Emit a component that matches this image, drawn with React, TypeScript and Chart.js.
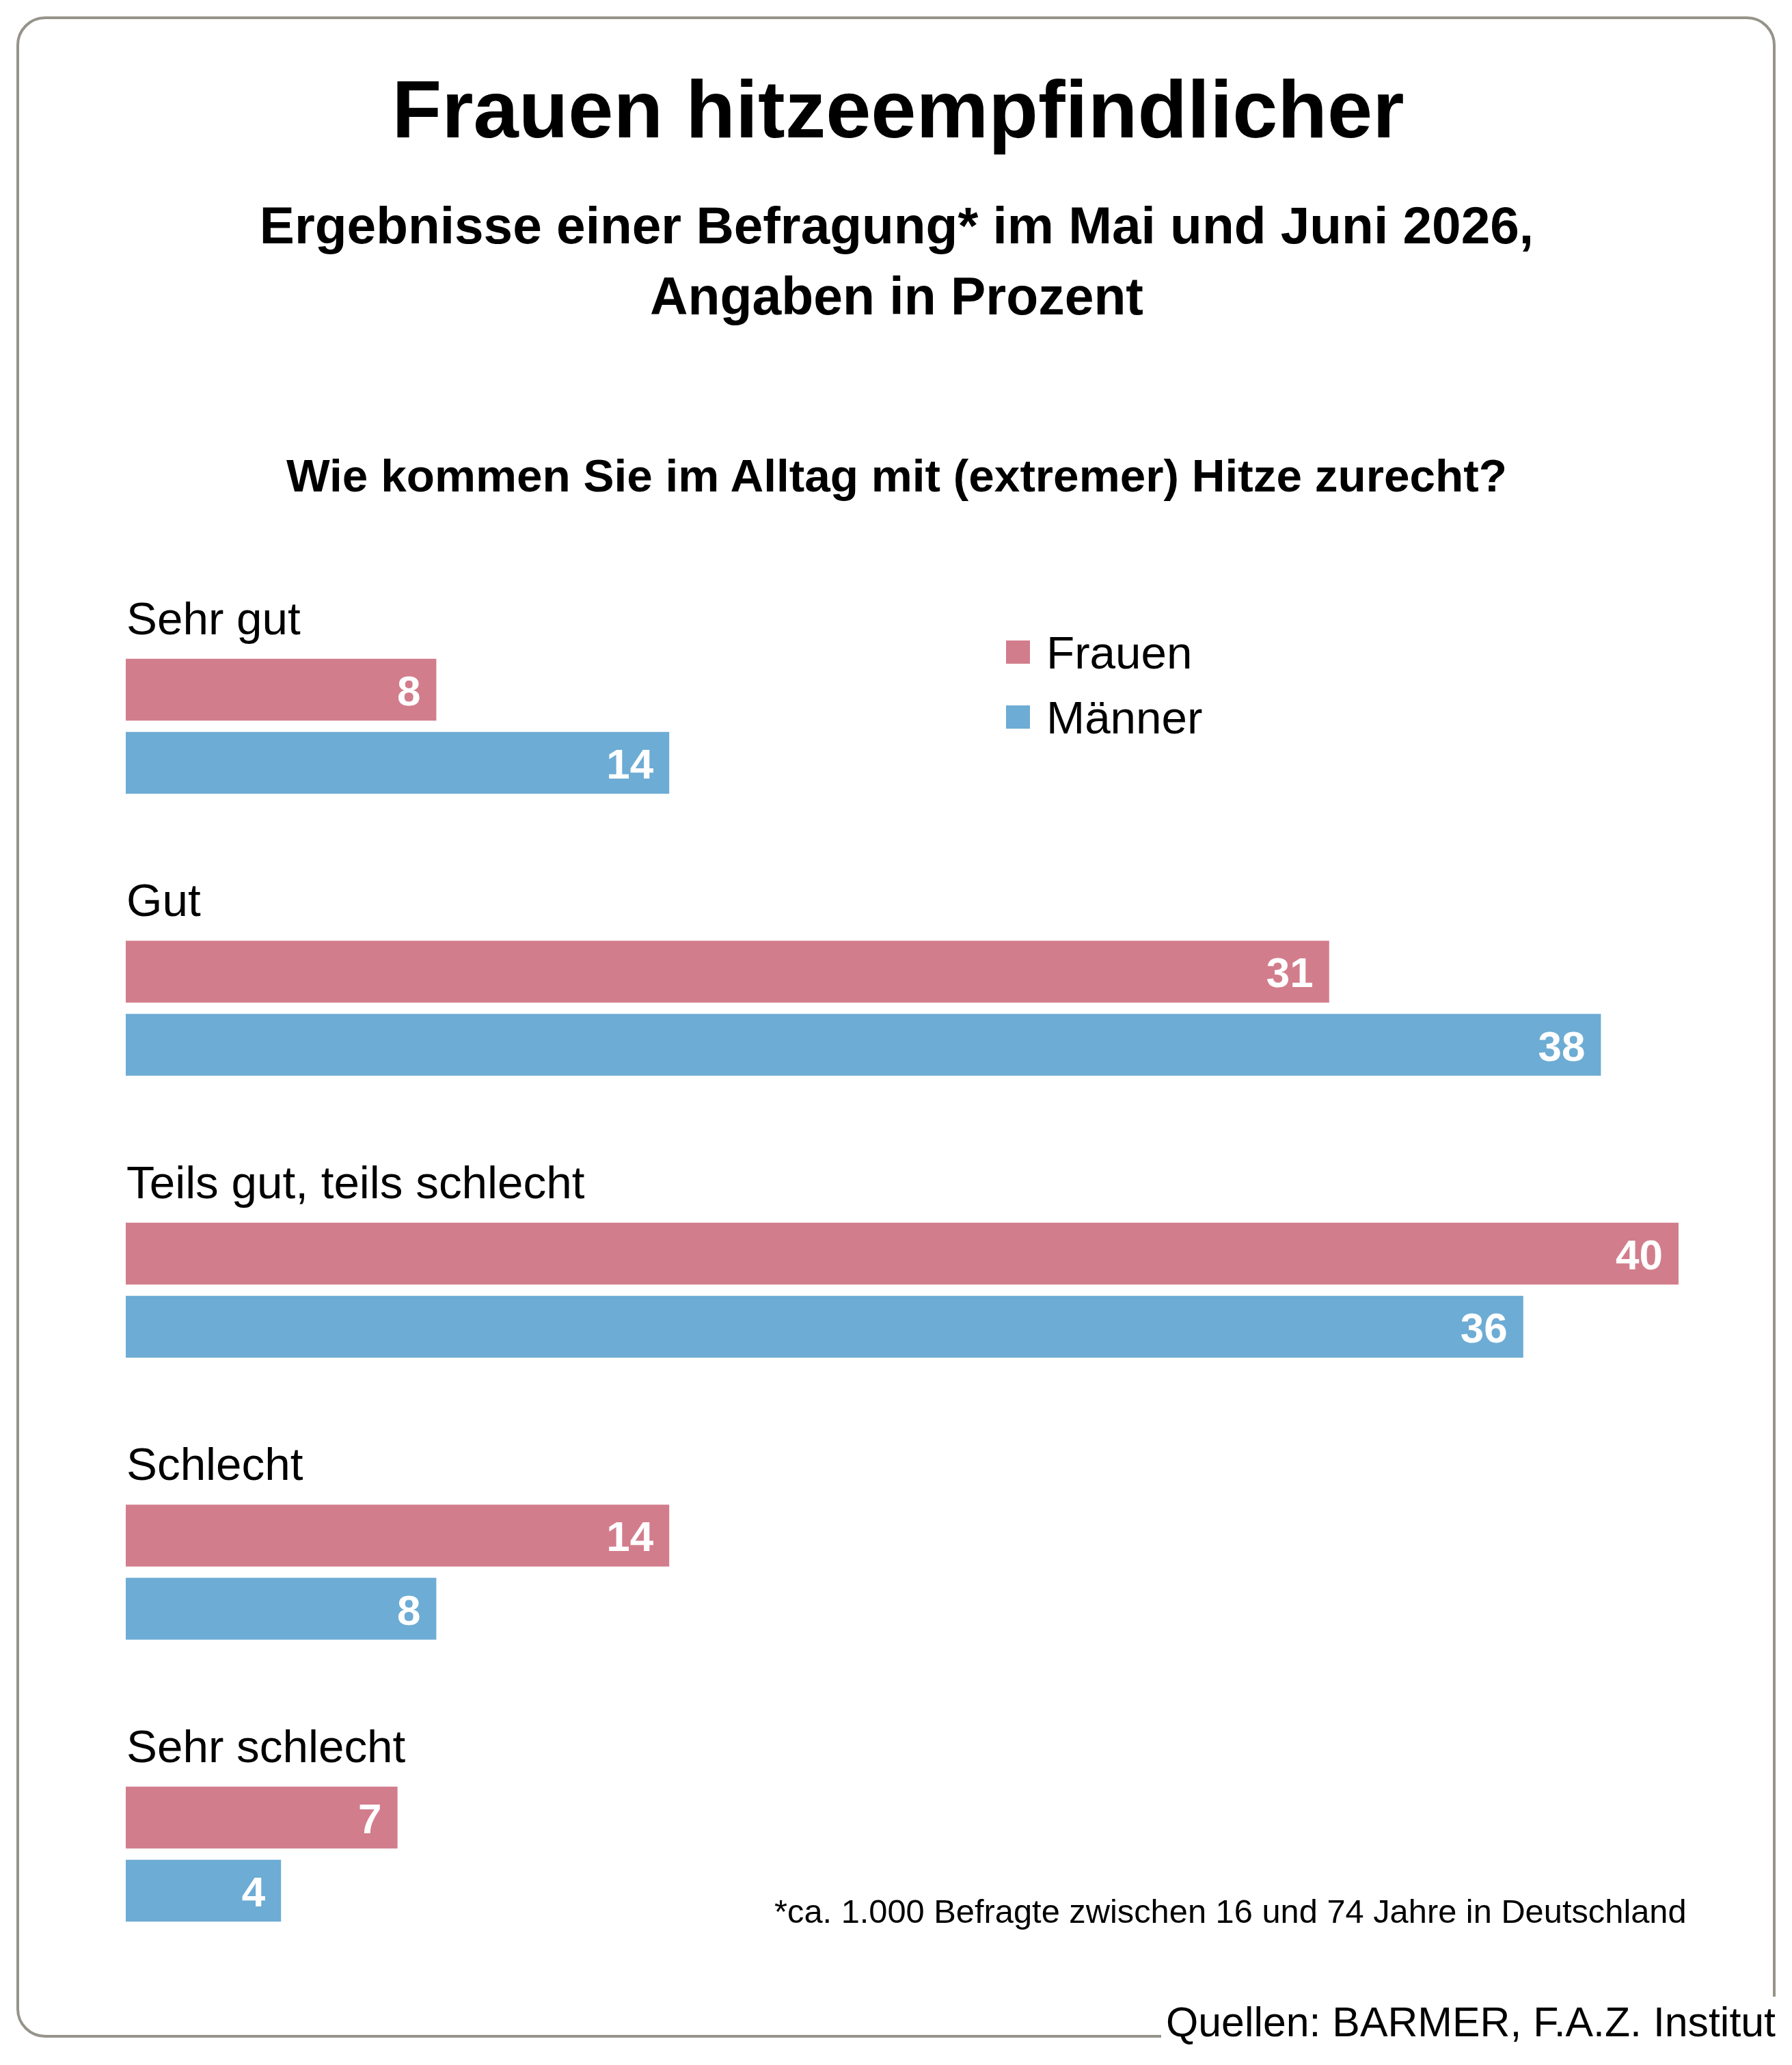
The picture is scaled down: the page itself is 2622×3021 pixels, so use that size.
import React, { useEffect, useRef } from "react";
import { Chart, registerables } from "chart.js";

Chart.register(...registerables);

const categories = ["Sehr gut", "Gut", "Teils gut, teils schlecht", "Schlecht", "Sehr schlecht"];
const frauen = [8, 31, 40, 14, 7];
const maenner = [14, 38, 36, 8, 4];

const PINK = "#d27d8c";
const BLUE = "#6dacd4";
const FONT = '"Liberation Sans", Arial, sans-serif';

// puts the text baseline on y, line height is the font size
const Label = ({ x, y, size, bold, align, children }: any) => {
  const top = y - size * 0.8465;
  const style: React.CSSProperties = {
    position: "absolute",
    top,
    fontFamily: FONT,
    fontSize: size,
    lineHeight: `${size}px`,
    fontWeight: bold ? 700 : 400,
    color: "#000",
    whiteSpace: "nowrap",
  };
  if (align === "center") {
    style.left = x;
    style.transform = "translateX(-50%)";
  } else {
    style.left = x;
  }
  return <div style={style}>{children}</div>;
};

const barText = {
  id: "barText",
  afterDatasetsDraw(chart: any) {
    const { ctx, scales } = chart;
    ctx.save();
    // category name above each group
    ctx.font = `67.4px ${FONT}`;
    ctx.fillStyle = "#000";
    ctx.textAlign = "left";
    ctx.textBaseline = "alphabetic";
    categories.forEach((c, i) => {
      ctx.fillText(c, scales.x.left + 1, scales.y.getPixelForValue(i) - 135);
    });
    // values inside the bars
    ctx.font = `bold 62px ${FONT}`;
    ctx.fillStyle = "#fff";
    ctx.textAlign = "right";
    chart.data.datasets.forEach((ds: any, d: number) => {
      chart.getDatasetMeta(d).data.forEach((bar: any, i: number) => {
        ctx.fillText(String(ds.data[i]), bar.x - 23, bar.y + 23);
      });
    });
    ctx.restore();
  },
};

export default function App() {
  const chartRef = useRef<HTMLCanvasElement>(null);

  useEffect(() => {
    if (!chartRef.current) return;
    const chart = new Chart(chartRef.current, {
      type: "bar",
      data: {
        labels: categories,
        datasets: [
          { label: "Frauen", data: frauen, backgroundColor: PINK, categoryPercentage: 0.5188, barPercentage: 0.8458 },
          { label: "Männer", data: maenner, backgroundColor: BLUE, categoryPercentage: 0.5188, barPercentage: 0.8458 },
        ],
      },
      options: {
        indexAxis: "y",
        animation: false,
        responsive: false,
        devicePixelRatio: 1,
        layout: { padding: { left: 184, right: 166, top: 856.25, bottom: 102.25 } },
        plugins: { legend: { display: false }, tooltip: { enabled: false } },
        scales: {
          x: { display: false, min: 0, max: 40 },
          y: { display: false },
        },
      },
      plugins: [barText],
    });
    return () => chart.destroy();
  }, []);

  return (
    <div style={{ position: "absolute", left: 0, top: 0, width: 2622, height: 3021, background: "#fff", overflow: "hidden" }}>
      <div
        style={{
          position: "absolute",
          left: 24,
          top: 24,
          width: 2566,
          height: 2949,
          border: "4px solid #96948a",
          borderRadius: 42,
        }}
      />
      <canvas ref={chartRef} width={2622} height={3021} style={{ position: "absolute", left: 0, top: 0 }} />

      <Label x={1314} y={201} size={119} bold align="center">Frauen hitzeempfindlicher</Label>
      <Label x={1312} y={357} size={76.6} bold align="center">Ergebnisse einer Befragung* im Mai und Juni 2026,</Label>
      <Label x={1312} y={460} size={76.9} bold align="center">Angaben in Prozent</Label>
      <Label x={1312} y={719} size={67.5} bold align="center">Wie kommen Sie im Alltag mit (extremer) Hitze zurecht?</Label>

      <div style={{ position: "absolute", left: 1472, top: 937, width: 35, height: 34, background: PINK }} />
      <div style={{ position: "absolute", left: 1472, top: 1032, width: 35, height: 34, background: BLUE }} />
      <Label x={1531} y={978} size={67.4}>Frauen</Label>
      <Label x={1531} y={1073} size={67.4}>Männer</Label>

      <Label x={1133} y={2813} size={48.8}>*ca. 1.000 Befragte zwischen 16 und 74 Jahre in Deutschland</Label>

      <div style={{ position: "absolute", left: 1699, top: 2921, width: 923, height: 100, background: "#fff" }} />
      <Label x={1706} y={2979} size={60.8}>Quellen: BARMER, F.A.Z. Institut</Label>
    </div>
  );
}
